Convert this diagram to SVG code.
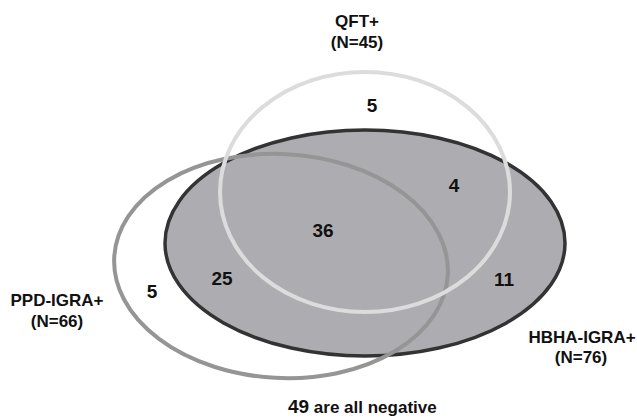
<svg xmlns="http://www.w3.org/2000/svg" width="637" height="419" viewBox="0 0 637 419">
<style>
text{font-family:"Liberation Sans",Arial,sans-serif;font-weight:bold;fill:#111;text-anchor:middle}
.lbl{font-size:17px}
.num{font-size:19px}
</style>
<rect width="637" height="419" fill="#ffffff"/>
<g id="hbha">
<ellipse cx="365" cy="243" rx="200" ry="113" fill="#adadb1" stroke="#333333" stroke-width="3.5"/>
<text class="lbl" x="582" y="343">HBHA-IGRA+</text>
<text class="lbl" x="581" y="363">(N=76)</text>
</g>
<g id="ppd">
<ellipse cx="281" cy="266" rx="167" ry="112" transform="rotate(3 281 266)" fill="none" stroke="#959595" stroke-width="4"/>
<text class="lbl" x="57" y="306">PPD-IGRA+</text>
<text class="lbl" x="57" y="327">(N=66)</text>
</g>
<g id="qft">
<ellipse cx="365" cy="192" rx="145" ry="120" fill="none" stroke="#dcdcdc" stroke-width="4"/>
<text class="lbl" x="357" y="27">QFT+</text>
<text class="lbl" x="357" y="48">(N=45)</text>
</g>
<g id="counts">
<text class="num" x="372" y="112">5</text>
<text class="num" x="454" y="192">4</text>
<text class="num" x="323" y="237">36</text>
<text class="num" x="222" y="285">25</text>
<text class="num" x="504" y="286">11</text>
<text class="num" x="152" y="298">5</text>
</g>
<g id="footer">
<text x="288" y="413" style="text-anchor:start"><tspan font-size="19">49</tspan><tspan font-size="17"> are all negative</tspan></text>
</g>
<g id="connectors"></g>
</svg>
